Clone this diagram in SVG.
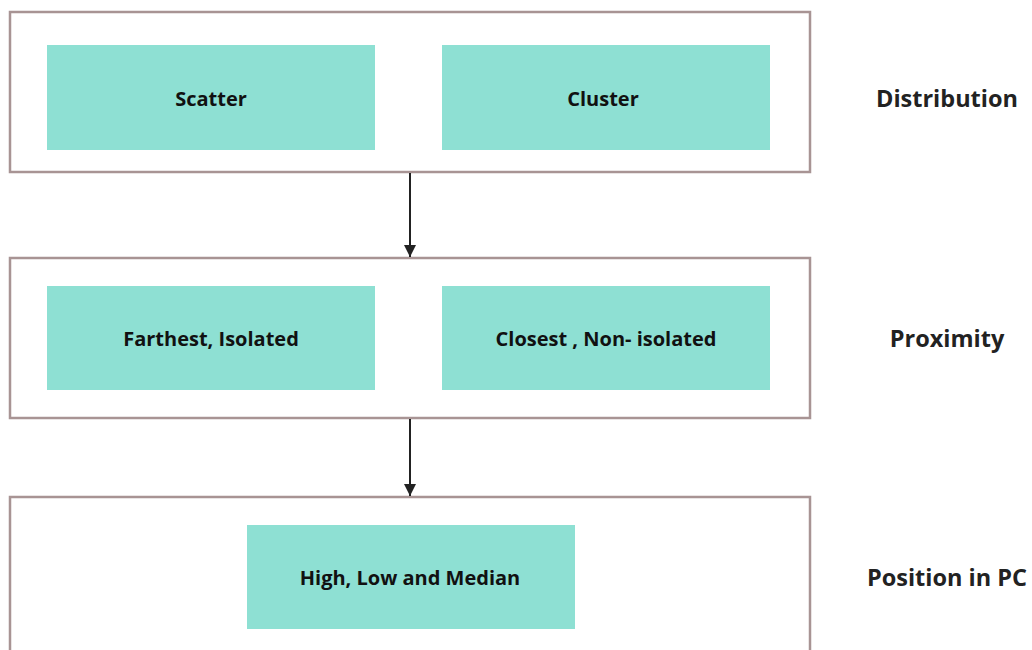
<svg xmlns="http://www.w3.org/2000/svg" width="1032" height="650" viewBox="0 0 1032 650">
  <style>
    .frame { fill: #ffffff; stroke: #a89494; stroke-width: 2.5; }
    .item { fill: #8ee0d3; }
    .item-text { font-family: "Open Sans", "Liberation Sans", sans-serif; font-weight: bold; font-size: 20px; fill: #111111; text-anchor: middle; dominant-baseline: central; }
    .side-text { font-family: "Open Sans", "Liberation Sans", sans-serif; font-weight: bold; font-size: 23.5px; fill: #222222; text-anchor: middle; dominant-baseline: central; }
    .link { stroke: #222222; stroke-width: 2; fill: none; }
  </style>
  <defs>
    <marker id="arrow" viewBox="0 0 10 10" refX="10" refY="5" markerWidth="13" markerHeight="12" markerUnits="userSpaceOnUse" orient="auto">
      <path d="M0,0 L10,5 L0,10 z" fill="#222222"/>
    </marker>
  </defs>
  <rect width="1032" height="650" fill="#ffffff"/>

  <g id="distribution">
    <rect class="frame" x="10" y="12" width="800" height="160"/>
    <g id="scatter">
      <rect class="item" x="47" y="45" width="328" height="105"/>
      <text class="item-text" x="211" y="98">Scatter</text>
    </g>
    <g id="cluster">
      <rect class="item" x="442" y="45" width="328" height="105"/>
      <text class="item-text" x="603" y="98">Cluster</text>
    </g>
    <text class="side-text" x="947" y="98">Distribution</text>
  </g>

  <g id="proximity">
    <rect class="frame" x="10" y="258" width="800" height="160"/>
    <g id="farthest">
      <rect class="item" x="47" y="286" width="328" height="104"/>
      <text class="item-text" x="211" y="338">Farthest, Isolated</text>
    </g>
    <g id="closest">
      <rect class="item" x="442" y="286" width="328" height="104"/>
      <text class="item-text" x="606" y="338">Closest , Non- isolated</text>
    </g>
    <text class="side-text" x="947" y="338">Proximity</text>
  </g>

  <g id="position">
    <rect class="frame" x="10" y="497" width="800" height="170"/>
    <g id="high-low-median">
      <rect class="item" x="247" y="525" width="328" height="104"/>
      <text class="item-text" x="410" y="577">High, Low and Median</text>
    </g>
    <text class="side-text" x="947" y="577">Position in PC</text>
  </g>

  <g id="connectors">
    <line class="link" x1="410" y1="173" x2="410" y2="257" marker-end="url(#arrow)"/>
    <line class="link" x1="410" y1="419" x2="410" y2="496" marker-end="url(#arrow)"/>
  </g>
</svg>
